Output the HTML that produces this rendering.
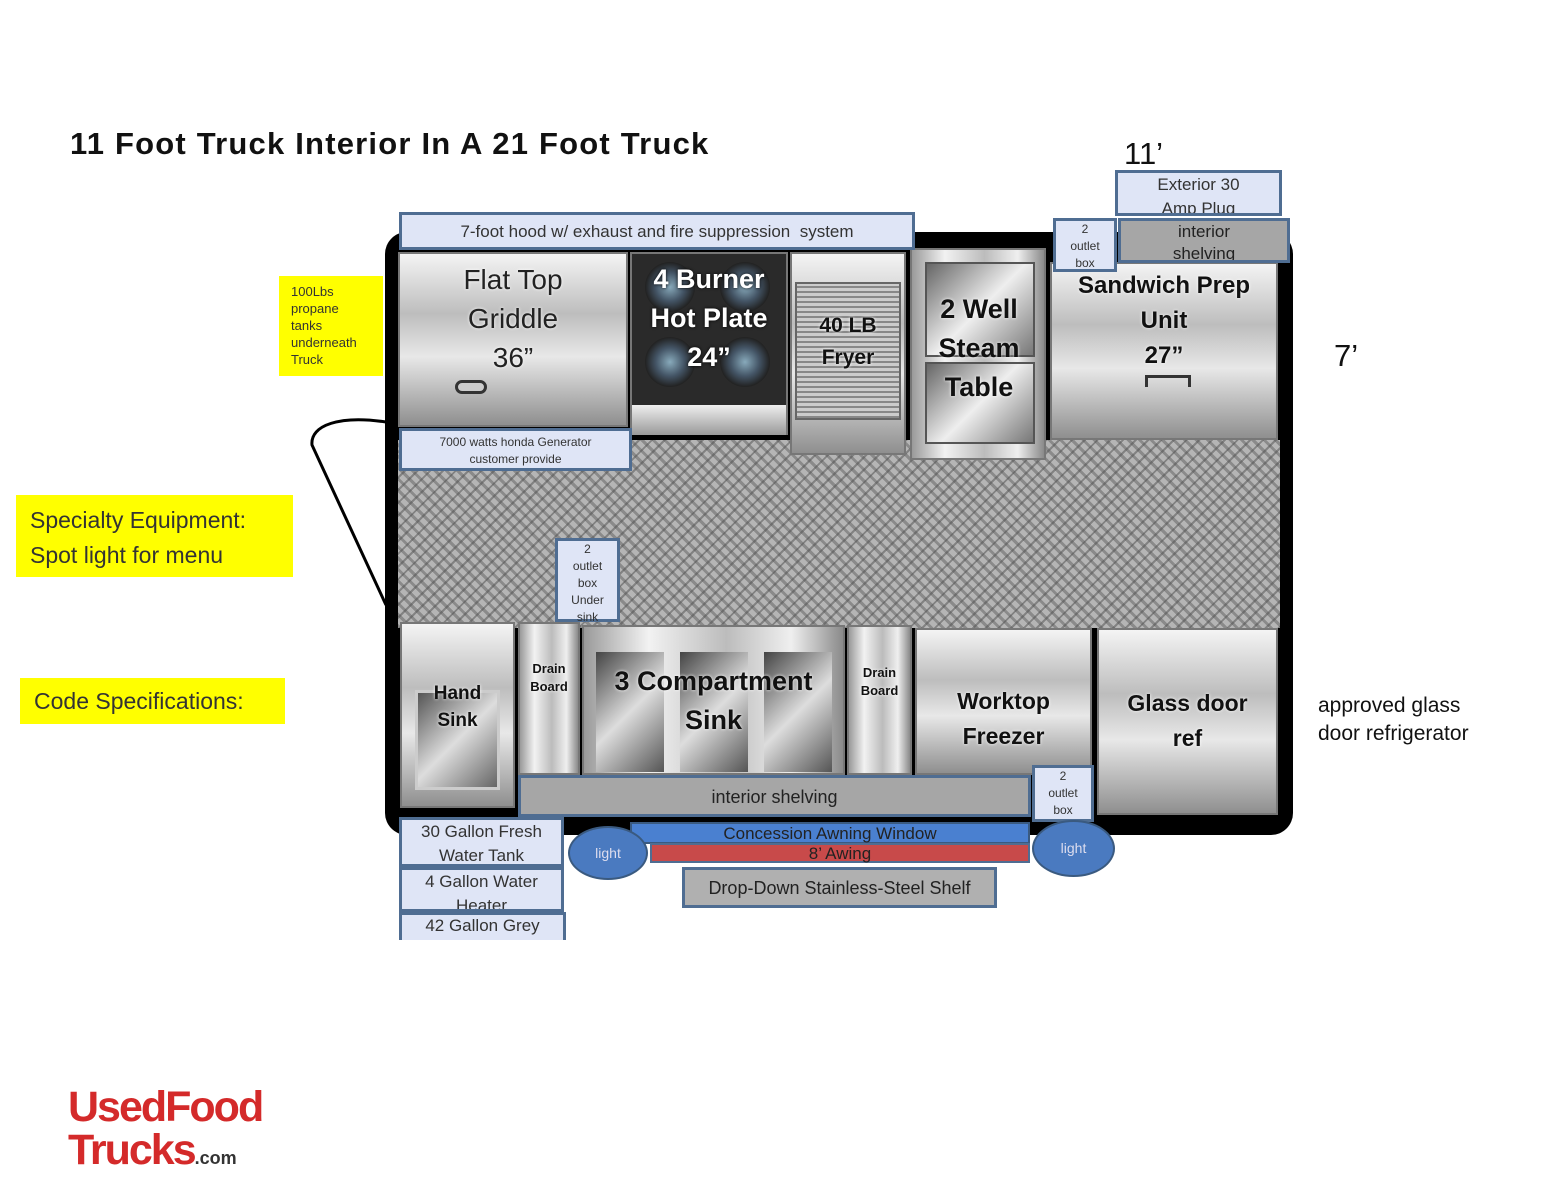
<!DOCTYPE html>
<html><head><meta charset="utf-8"><style>
body{margin:0;width:1568px;height:1200px;background:#fff;position:relative;overflow:hidden;font-family:"Liberation Sans",sans-serif}
.a{position:absolute;box-sizing:border-box}
.lb{background:#dfe5f6;border:3px solid #4f6d92;color:#333;text-align:center}
.gr{background:#a6a6a6;border:3px solid #4f6d92;color:#222;text-align:center}
.sv{background:linear-gradient(180deg,#f4f4f4 0%,#bdbdbd 35%,#e8e8e8 60%,#8f8f8f 100%);border:2px solid #777}
.svh{background:linear-gradient(90deg,#9a9a9a 0%,#f2f2f2 25%,#bcbcbc 55%,#efefef 80%,#8a8a8a 100%);border:2px solid #777}
.t{color:#111;font-weight:bold;text-align:center;text-shadow:0 0 3px #fff}
.y{background:#ffff00;color:#333}
</style></head><body>
<div class="a" style="left:70px;top:126px;font-size:31px;font-weight:bold;color:#111;letter-spacing:1.2px">11 Foot Truck Interior In A 21 Foot Truck</div>
<div class="a" style="left:1124px;top:136px;font-size:31px;color:#111">11’</div>
<div class="a" style="left:1334px;top:338px;font-size:31px;color:#111">7’</div>
<div class="a" style="left:1318px;top:692px;font-size:21px;line-height:28px;color:#111">approved glass<br>door refrigerator</div>

<div class="a" style="left:385px;top:232px;width:908px;height:603px;background:#000;border-radius:22px"></div>
<div class="a" style="left:398px;top:440px;width:882px;height:188px;background:repeating-linear-gradient(45deg,#8a8a8a 0 3px,#b5b5b5 3px 8px),#999"></div>
<div class="a" style="left:398px;top:440px;width:882px;height:188px;background:repeating-linear-gradient(-45deg,rgba(80,80,80,.5) 0 2px,transparent 2px 9px)"></div>

<svg class="a" style="left:300px;top:410px" width="100" height="200"><path d="M86 12 C40 5 10 15 12 35 L86 195" fill="none" stroke="#000" stroke-width="3"/></svg>

<div class="a sv" style="left:398px;top:252px;width:230px;height:175px"></div>
<div class="a t" style="left:398px;top:260px;width:230px;font-size:28px;font-weight:normal;line-height:39px;color:#222">Flat Top<br>Griddle<br>36”</div>
<div class="a" style="left:455px;top:380px;width:32px;height:14px;border:3px solid #333;border-radius:8px;background:#ccc"></div>
<div class="a" style="left:630px;top:252px;width:158px;height:183px;background:#2a2a2a;border:2px solid #777"></div>
<div class="a" style="left:632px;top:405px;width:154px;height:30px;background:linear-gradient(#eee,#999)"></div>
<div class="a" style="left:645px;top:262px;width:50px;height:50px;border-radius:50%;background:radial-gradient(#8ab,#456 40%,#222 70%)"></div>
<div class="a" style="left:720px;top:262px;width:50px;height:50px;border-radius:50%;background:radial-gradient(#8ab,#456 40%,#222 70%)"></div>
<div class="a" style="left:645px;top:337px;width:50px;height:50px;border-radius:50%;background:radial-gradient(#8ab,#456 40%,#222 70%)"></div>
<div class="a" style="left:720px;top:337px;width:50px;height:50px;border-radius:50%;background:radial-gradient(#8ab,#456 40%,#222 70%)"></div>
<div class="a t" style="left:630px;top:260px;width:158px;font-size:27px;line-height:39px;color:#fff;text-shadow:0 0 3px #000">4 Burner<br>Hot Plate<br>24”</div>
<div class="a sv" style="left:790px;top:252px;width:116px;height:203px"></div>
<div class="a" style="left:795px;top:282px;width:106px;height:138px;background:repeating-linear-gradient(0deg,#888 0 2px,#ccc 2px 5px);border:2px solid #666"></div>
<div class="a t" style="left:790px;top:310px;width:116px;font-size:21px;line-height:32px">40 LB<br>Fryer</div>
<div class="a svh" style="left:910px;top:248px;width:136px;height:212px"></div>
<div class="a" style="left:925px;top:262px;width:110px;height:95px;background:linear-gradient(135deg,#666,#eee 50%,#777);border:2px solid #555"></div>
<div class="a" style="left:925px;top:362px;width:110px;height:82px;background:linear-gradient(135deg,#666,#eee 50%,#777);border:2px solid #555"></div>
<div class="a t" style="left:920px;top:290px;width:118px;font-size:27px;line-height:39px">2 Well<br>Steam<br>Table</div>
<div class="a sv" style="left:1050px;top:262px;width:228px;height:178px"></div>
<div class="a t" style="left:1050px;top:268px;width:228px;font-size:24px;line-height:35px">Sandwich Prep<br>Unit<br>27”</div>
<div class="a" style="left:1145px;top:375px;width:46px;height:12px;border:3px solid #333;border-bottom:none"></div>

<div class="a lb" style="left:399px;top:212px;width:516px;height:38px;font-size:17px;line-height:34px">7-foot hood w/ exhaust and fire suppression&nbsp; system</div>
<div class="a lb" style="left:399px;top:428px;width:233px;height:43px;font-size:12px;line-height:17px;padding-top:3px">7000 watts honda Generator<br>customer provide</div>
<div class="a lb" style="left:1115px;top:170px;width:167px;height:46px;font-size:17px;line-height:24px;overflow:hidden">Exterior 30<br>Amp Plug</div>
<div class="a gr" style="left:1118px;top:218px;width:172px;height:45px;font-size:17px;line-height:22px;overflow:hidden">interior<br>shelving</div>
<div class="a lb" style="left:1053px;top:218px;width:64px;height:54px;font-size:12px;line-height:17px">2<br>outlet<br>box</div>

<div class="a y" style="left:279px;top:276px;width:104px;height:100px;font-size:13px;line-height:17px;padding:7px 12px">100Lbs propane tanks underneath Truck</div>
<div class="a y" style="left:16px;top:495px;width:277px;height:82px;font-size:23px;line-height:35px;padding:8px 14px">Specialty Equipment:<br>Spot light for menu</div>
<div class="a y" style="left:20px;top:678px;width:265px;height:46px;font-size:23px;line-height:46px;padding-left:14px">Code Specifications:</div>

<div class="a sv" style="left:400px;top:622px;width:115px;height:186px"></div>
<div class="a" style="left:415px;top:690px;width:85px;height:100px;background:linear-gradient(135deg,#555,#ddd 50%,#666);border:3px solid #ccc"></div>
<div class="a t" style="left:400px;top:680px;width:115px;font-size:19px;line-height:27px">Hand<br>Sink</div>
<div class="a svh" style="left:518px;top:622px;width:62px;height:153px"></div>
<div class="a t" style="left:518px;top:660px;width:62px;font-size:13px;line-height:18px">Drain<br>Board</div>
<div class="a svh" style="left:582px;top:625px;width:263px;height:150px"></div>
<div class="a" style="left:596px;top:652px;width:68px;height:120px;background:linear-gradient(135deg,#444,#ddd 50%,#555)"></div>
<div class="a" style="left:680px;top:652px;width:68px;height:120px;background:linear-gradient(135deg,#444,#ddd 50%,#555)"></div>
<div class="a" style="left:764px;top:652px;width:68px;height:120px;background:linear-gradient(135deg,#444,#ddd 50%,#555)"></div>
<div class="a t" style="left:582px;top:662px;width:263px;font-size:27px;line-height:39px">3 Compartment<br>Sink</div>
<div class="a svh" style="left:847px;top:625px;width:65px;height:150px"></div>
<div class="a t" style="left:847px;top:664px;width:65px;font-size:13px;line-height:18px">Drain<br>Board</div>
<div class="a sv" style="left:915px;top:628px;width:177px;height:147px"></div>
<div class="a t" style="left:915px;top:684px;width:177px;font-size:23px;line-height:35px">Worktop<br>Freezer</div>
<div class="a sv" style="left:1097px;top:628px;width:181px;height:187px"></div>
<div class="a t" style="left:1097px;top:686px;width:181px;font-size:23px;line-height:35px">Glass door<br>ref</div>

<div class="a lb" style="left:555px;top:538px;width:65px;height:84px;font-size:12px;line-height:17px">2<br>outlet<br>box<br>Under<br>sink</div>
<div class="a gr" style="left:518px;top:775px;width:513px;height:42px;font-size:18px;line-height:38px">interior shelving</div>
<div class="a lb" style="left:1032px;top:765px;width:62px;height:57px;font-size:12px;line-height:17px">2<br>outlet<br>box</div>

<div class="a lb" style="left:399px;top:817px;width:165px;height:50px;font-size:17px;line-height:24px">30 Gallon Fresh<br>Water Tank</div>
<div class="a lb" style="left:399px;top:867px;width:165px;height:45px;font-size:17px;line-height:24px;overflow:hidden">4 Gallon Water<br>Heater</div>
<div class="a lb" style="left:399px;top:912px;width:167px;height:28px;font-size:17px;line-height:22px;border-bottom:none;overflow:hidden">42 Gallon Grey</div>

<div class="a" style="left:630px;top:822px;width:400px;height:22px;background:#4a80d0;border:2px solid #3a5a80;font-size:17px;line-height:20px;text-align:center;color:#222">Concession Awning Window</div>
<div class="a" style="left:650px;top:843px;width:380px;height:20px;background:#c84a4a;border:2px solid #4f6d92;font-size:17px;line-height:17px;text-align:center;color:#222">8’ Awing</div>
<div class="a gr" style="left:682px;top:867px;width:315px;height:41px;font-size:18px;line-height:36px;background:#b0b0b0">Drop-Down Stainless-Steel Shelf</div>
<div class="a" style="left:568px;top:826px;width:80px;height:54px;border-radius:50%;background:#4a7ac0;border:2px solid #3a5a80;color:#dde;font-size:14px;line-height:50px;text-align:center">light</div>
<div class="a" style="left:1032px;top:820px;width:83px;height:57px;border-radius:50%;background:#4a7ac0;border:2px solid #3a5a80;color:#dde;font-size:14px;line-height:53px;text-align:center">light</div>

<div class="a" style="left:68px;top:1086px;font-size:43px;font-weight:bold;color:#d42a2a;letter-spacing:-2px;line-height:43px">UsedFood<br>Trucks<span style="font-size:18px;color:#333;letter-spacing:0">.com</span></div>
</body></html>
